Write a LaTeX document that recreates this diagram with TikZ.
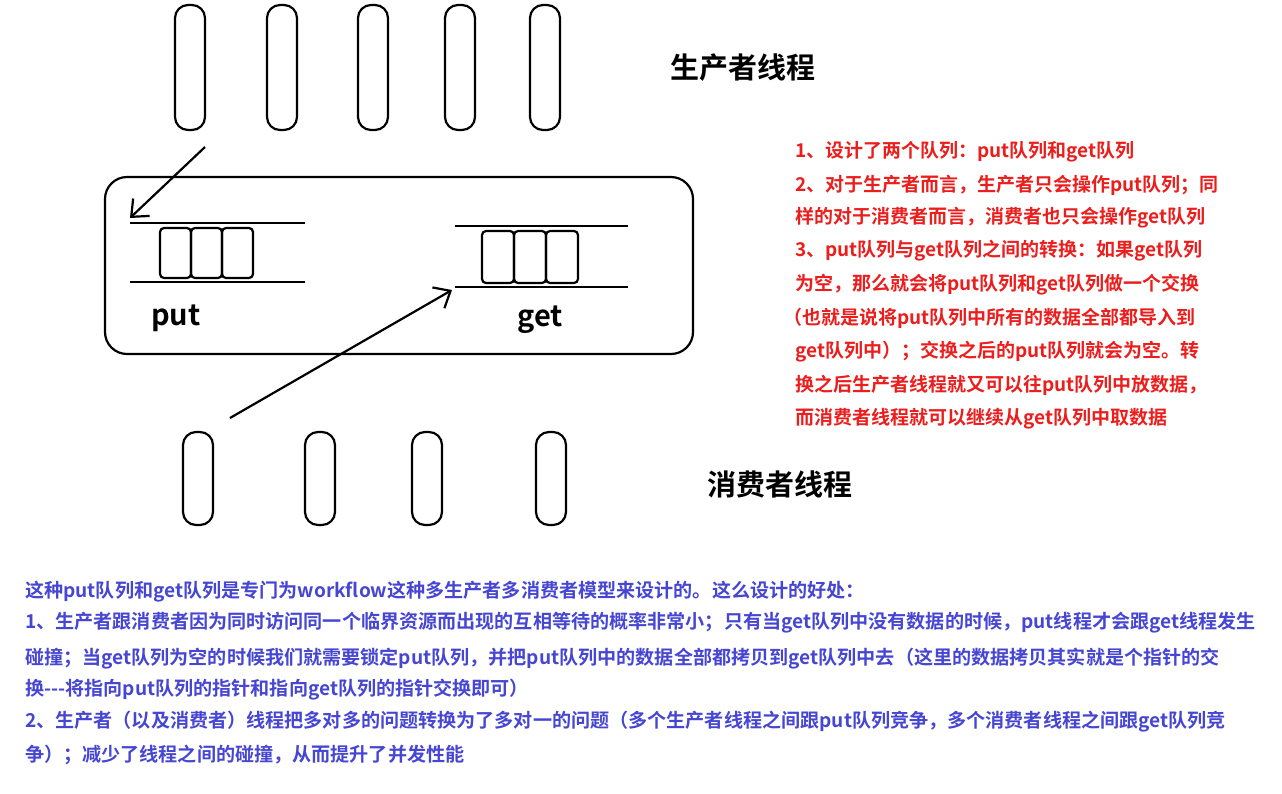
\documentclass[tikz,border=0pt]{standalone}
\usepackage{fontspec}
\usetikzlibrary{arrows.meta}
\newfontfamily\cjk{Noto Sans CJK SC Bold}
\definecolor{redt}{RGB}{235,30,30}
\definecolor{bluet}{RGB}{70,70,210}
\begin{document}
\begin{tikzpicture}[x=1pt,y=-1pt,
  thr/.style={draw,line width=2.2pt,rounded corners=13pt},
  cell/.style={draw,line width=2.2pt,rounded corners=4pt},
  ln/.style={line width=2.2pt},
  arr/.style={line width=2.2pt,-{Straight Barb[length=14pt,width=24pt]}},
  red/.style={anchor=west,inner sep=0,text=redt,font=\cjk\fontsize{19}{19}\selectfont},
  blu/.style={anchor=west,inner sep=0,text=bluet,font=\cjk\fontsize{19.1}{19}\selectfont}]
\useasboundingbox (0,0) rectangle (1282,793);
\foreach \x/\n in {190/a,282/b,373/c,460/d,545/e}
  \draw[thr] (\x-15,5) rectangle (\x+15,130);
\foreach \x in {198,320,427,551}
  \draw[thr] (\x-15,432) rectangle (\x+15,525);
\draw[ln,rounded corners=22pt] (105,177) rectangle (693,354);
% put queue
\draw[ln] (130,223) -- (305,223);
\draw[ln] (130,282) -- (305,282);
\foreach \x in {160,191,222} \draw[cell] (\x,228) rectangle (\x+31,278);
% get queue
\draw[ln] (455,226) -- (628,226);
\draw[ln] (455,287) -- (628,287);
\foreach \x in {482,514,546} \draw[cell] (\x,231) rectangle (\x+32,283);
\node[font=\cjk\fontsize{29}{29}\selectfont] (put) at (176,318) {put};
\node[font=\cjk\fontsize{29}{29}\selectfont] (get) at (540,320) {get};
\coordinate (a1) at (205,147); \coordinate (a2) at (130,218);
\coordinate (b1) at (230,418); \coordinate (b2) at (452,290);
\draw[arr] (a1) -- (a2);
\draw[arr] (b1) -- (b2);
\node[font=\cjk\fontsize{29}{29}\selectfont] (prod) at (743,68) {生产者线程};
\node[font=\cjk\fontsize{29}{29}\selectfont] (cons) at (780,484) {消费者线程};
\node[red] at (795,152) {1、设计了两个队列：put队列和get队列};
\node[red] at (795,185) {2、对于生产者而言，生产者只会操作put队列；同};
\node[red] at (795,218) {样的对于消费者而言，消费者也只会操作get队列};
\node[red] at (795,251) {3、put队列与get队列之间的转换：如果get队列};
\node[red] at (795,285) {为空，那么就会将put队列和get队列做一个交换};
\node[red] at (783,318) {（也就是说将put队列中所有的数据全部都导入到};
\node[red] at (795,352) {get队列中）；交换之后的put队列就会为空。转};
\node[red] at (795,385) {换之后生产者线程就又可以往put队列中放数据，};
\node[red] at (795,419) {而消费者线程就可以继续从get队列中取数据};
\node[blu] at (25,592) {这种put队列和get队列是专门为workflow这种多生产者多消费者模型来设计的。这么设计的好处：};
\node[blu] at (25,623) {1、生产者跟消费者因为同时访问同一个临界资源而出现的互相等待的概率非常小；只有当get队列中没有数据的时候，put线程才会跟get线程发生};
\node[blu] at (25,659) {碰撞；当get队列为空的时候我们就需要锁定put队列，并把put队列中的数据全部都拷贝到get队列中去（这里的数据拷贝其实就是个指针的交};
\node[blu] at (25,690) {换---将指向put队列的指针和指向get队列的指针交换即可）};
\node[blu] at (25,722) {2、生产者（以及消费者）线程把多对多的问题转换为了多对一的问题（多个生产者线程之间跟put队列竞争，多个消费者线程之间跟get队列竞};
\node[blu] at (25,755) {争）；减少了线程之间的碰撞，从而提升了并发性能};
\end{tikzpicture}
\end{document}
